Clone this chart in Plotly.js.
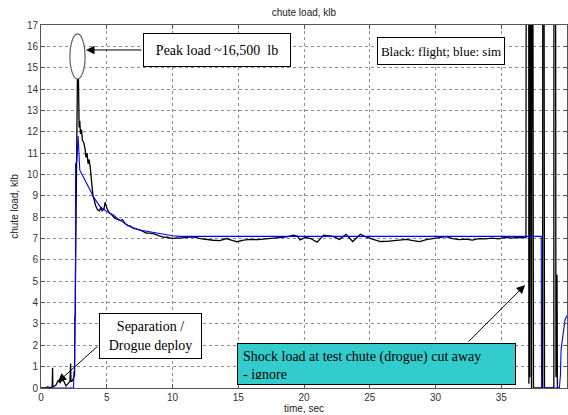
<!DOCTYPE html>
<html>
<head>
<meta charset="utf-8">
<script src="https://cdn.plot.ly/plotly-3.0.1.min.js"></script>
<style>
  html, body { margin: 0; padding: 0; background: #fff; }
  #chart { width: 568px; height: 415px; }
</style>
</head>
<body>
<div id="chart"></div>
<script>
// Flight-measured chute load (klb) vs time (sec)
const flightTime = [
  0, 0.3, 0.5, 0.7, 0.85, 0.88, 0.9, 1.0, 1.15, 1.3, 1.45, 1.6, 1.75, 1.9, 2.05, 2.2, 2.25, 2.28, 2.4, 2.5, 2.55,
  2.8, 2.84, 2.86, 2.9, 2.95, 3.0, 3.08, 3.15, 3.25, 3.35, 3.42, 3.5, 3.58, 3.66, 3.75, 3.85, 3.95,
  4.05, 4.15, 4.3, 4.45, 4.55, 4.65, 4.8, 4.87, 4.95, 5.05, 5.2, 5.4, 5.6, 5.8, 6.0, 6.2, 6.4, 6.6, 6.8,
  7.0, 7.2, 7.5, 7.8, 8.0, 8.3, 8.6, 9.0, 9.3, 9.6, 10.0, 10.3, 10.6, 11.1, 11.6, 12.1, 12.6, 13.1,
  13.6, 14.1, 14.6, 14.9, 15.4, 15.9, 16.5, 17.2, 17.8, 18.2, 18.7, 19.2, 19.5, 19.7, 20.1, 20.5,
  21.0, 21.5, 22.2, 22.7, 23.2, 23.7, 24.3, 24.8, 25.3, 25.8, 26.3, 26.8, 27.3, 27.8, 28.3, 28.8,
  29.3, 29.8, 30.3, 30.8, 31.3, 31.8, 32.3, 32.8, 33.3, 33.8, 34.3, 34.8, 35.3, 35.8, 36.3, 36.88,
  36.92, 37.0, 37.08, 37.1, 37.15, 37.17, 37.22, 37.3, 37.36, 37.45, 38.15, 38.16, 38.22, 38.29,
  39.0, 39.01, 39.1, 39.16, 39.24, 39.27, 39.4
];
const flightLoad = [
  0, 0, 0.05, 0.02, 0.05, 0.95, 0.05, 0.08, 0.15, 0.35, 0.25, 0.4, 0.3, 0.1, 0.2, 0.3, 1.15, 0.3, 0.35, 0.5, 0.6,
  16.5, 13.6, 14.4, 12.2, 12.5, 11.9, 12.1, 11.6, 11.5, 11.2, 10.8, 11.0, 10.5, 10.7, 10.3, 9.6, 9.0,
  8.8, 8.55, 8.35, 8.3, 8.45, 8.3, 8.4, 8.7, 8.55, 8.35, 8.2, 8.1, 7.95, 7.88, 7.85, 7.88, 7.7, 7.6, 7.58,
  7.48, 7.45, 7.4, 7.32, 7.25, 7.25, 7.22, 7.12, 7.07, 7.06, 7.0, 7.03, 7.02, 7.05, 7.08, 7.0, 6.95, 6.92,
  6.9, 7.0, 6.9, 6.85, 6.93, 6.96, 6.95, 7.0, 7.02, 7.05, 7.08, 7.16, 7.1, 6.93, 7.05, 7.0,
  6.83, 7.16, 7.1, 6.96, 7.2, 6.86, 7.2, 7.05, 6.95, 6.86, 6.87, 6.89, 6.92, 6.96, 6.9, 6.86,
  6.95, 7.0, 7.05, 7.09, 7.0, 6.95, 6.97, 6.93, 7.0, 6.98, 7.02, 6.98, 7.05, 7.02, 7.06, 7.05,
  40, 40, 40, 0.2, 14.1, 0.5, 40, 0, 40, 0, 0, 40, 40, 0,
  0, 40, 40, 0.5, 5.3, 0, 0
];

// Simulated chute load (klb) vs time (sec)
const simTime = [
  0.75, 2.48, 2.5, 2.55, 2.56, 2.62, 2.63, 2.72, 2.82, 2.95, 3.2, 3.5, 3.73, 3.98, 4.49, 5.0, 5.5,
  6.0, 6.77, 7.5, 8.8, 9.3, 10.0, 10.6, 38.04, 38.06, 38.07, 39.42, 39.5, 39.55, 39.7, 39.85, 40
];
const simLoad = [
  0, 0, 0.75, 0.8, 3.3, 3.4, 10.5, 10.6, 11.8, 10.2, 9.9, 9.5, 9.27, 8.96, 8.5, 8.26, 8.1,
  7.85, 7.56, 7.4, 7.26, 7.2, 7.13, 7.1, 7.1, 1.8, 0, 0, 0.6, 1.8, 2.6, 3.2, 3.4
];

// Axis ticks
const xTicks = [0, 5, 10, 15, 20, 25, 30, 35, 40];
const yTicks = [0, 1, 2, 3, 4, 5, 6, 7, 8, 9, 10, 11, 12, 13, 14, 15, 16, 17];

const serif = "'Liberation Serif', 'Times New Roman', serif";
const sans = "'Liberation Sans', Arial, sans-serif";

const traces = [
  {
    x: flightTime, y: flightLoad, type: 'scatter', mode: 'lines',
    line: { color: '#000000', width: 1.3 }, name: 'flight', hoverinfo: 'skip'
  },
  {
    x: simTime, y: simLoad, type: 'scatter', mode: 'lines',
    line: { color: '#0000ff', width: 1.1 }, name: 'sim', hoverinfo: 'skip'
  }
];

const axisCommon = {
  showgrid: true, gridcolor: '#8c8c8c', gridwidth: 1, griddash: '3px,3px',
  showline: true, linecolor: '#555555', linewidth: 1, mirror: 'ticks',
  ticks: 'inside', ticklen: 4, tickcolor: '#555555',
  zeroline: false, automargin: false,
  tickfont: { family: sans, size: 10, color: '#333333' }
};

const boxText = { family: serif, color: '#000000' };

const layout = {
  width: 568, height: 415,
  margin: { l: 41, r: 1, t: 25, b: 27, pad: 0 },
  paper_bgcolor: '#ffffff', plot_bgcolor: '#ffffff',
  showlegend: false,
  title: {
    text: 'chute load, klb',
    font: { family: sans, size: 10, color: '#222222' },
    x: 0.535, xanchor: 'center', y: 0.97, yanchor: 'middle'
  },
  xaxis: Object.assign({}, axisCommon, {
    range: [0, 40], tickvals: xTicks, ticktext: xTicks.map(String),
    title: { text: 'time, sec', font: { family: sans, size: 10, color: '#222222' }, standoff: 2 }
  }),
  yaxis: Object.assign({}, axisCommon, {
    range: [0, 17], tickvals: yTicks, ticktext: yTicks.map(String),
    title: { text: 'chute load, klb', font: { family: sans, size: 10, color: '#222222' }, standoff: 6 }
  }),
  shapes: [
    // ring around the peak
    {
      type: 'circle', xref: 'x', yref: 'y', layer: 'above',
      x0: 2.2, x1: 3.35, y0: 14.47, y1: 16.58,
      line: { color: '#606060', width: 1.2 }, fillcolor: '#ffffff'
    }
  ],
  annotations: [
    // callout boxes
    {
      xref: 'x', yref: 'y', x: 13.42, y: 15.84, showarrow: false,
      text: 'Peak load ~16,500&nbsp; lb', font: Object.assign({ size: 14 }, boxText),
      bgcolor: '#ffffff', bordercolor: '#000000', borderwidth: 1, borderpad: 0,
      width: 146, height: 32, align: 'center', valign: 'middle'
    },
    {
      xref: 'x', yref: 'y', x: 30.38, y: 15.79, showarrow: false,
      text: 'Black: flight; blue: sim', font: Object.assign({ size: 13 }, boxText),
      bgcolor: '#ffffff', bordercolor: '#000000', borderwidth: 1, borderpad: 0,
      width: 126, height: 26, align: 'center', valign: 'middle'
    },
    {
      xref: 'x', yref: 'y', x: 8.31, y: 2.43, showarrow: false,
      text: 'Separation /<br>Drogue deploy', font: Object.assign({ size: 14 }, boxText),
      bgcolor: '#ffffff', bordercolor: '#000000', borderwidth: 1, borderpad: 0,
      width: 101, height: 44, align: 'center', valign: 'middle'
    },
    {
      xref: 'x', yref: 'y', x: 25.51, y: 1.11, showarrow: false,
      text: 'Shock load at test chute (drogue) cut away<br>- ignore', font: Object.assign({ size: 14 }, boxText),
      bgcolor: '#33cccc', bordercolor: '#000000', borderwidth: 1, borderpad: 5,
      width: 267, height: 30, align: 'left', valign: 'top'
    },
    // pointer arrows
    {
      xref: 'x', yref: 'y', x: 3.42, y: 15.83, text: '', showarrow: true,
      ax: 57, ay: 0,
      arrowhead: 2, arrowsize: 1.7, arrowwidth: 1, arrowcolor: '#000000', standoff: 0
    },
    {
      xref: 'x', yref: 'y', x: 1.29, y: 0.28, text: '', showarrow: true,
      ax: 41, ay: -37,
      arrowhead: 2, arrowsize: 1.7, arrowwidth: 1, arrowcolor: '#000000', standoff: 0
    },
    {
      xref: 'x', yref: 'y', x: 36.81, y: 4.82, text: '', showarrow: true,
      ax: -58, ay: 58,
      arrowhead: 2, arrowsize: 1.7, arrowwidth: 1, arrowcolor: '#000000', standoff: 0
    }
  ]
};

Plotly.newPlot('chart', traces, layout, { displayModeBar: false, staticPlot: true });
</script>
</body>
</html>
